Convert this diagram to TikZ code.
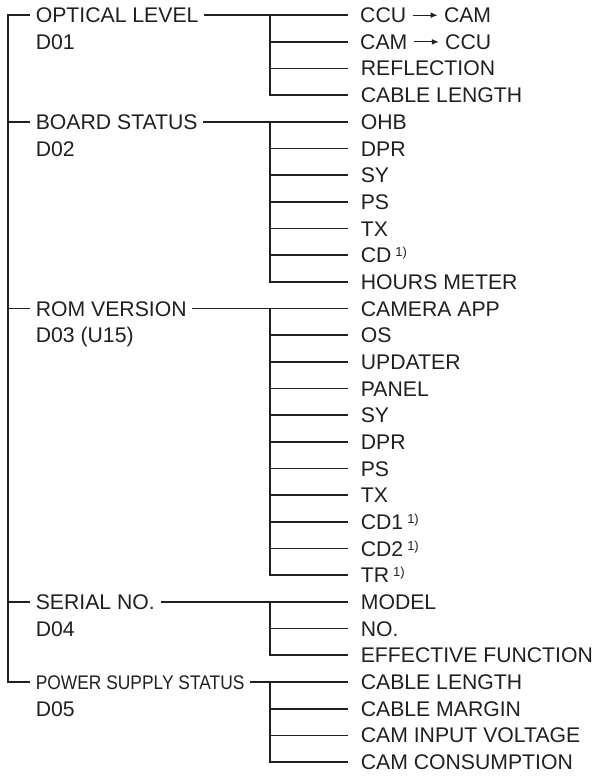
\documentclass[tikz,border=0pt]{standalone}
\usepackage{fontspec}
\setmainfont{Liberation Sans}
\usetikzlibrary{arrows.meta}
\definecolor{inchiostro}{HTML}{231F20}
%nota a esponente
\newcommand{\nota}{\hspace{4pt}\raisebox{6pt}{\fontsize{13}{14}\selectfont 1)}}
%freccia tra CCU e CAM
\newcommand{\freccia}{\tikz[baseline=0pt,x=1pt,y=1pt]\draw[line width=1.1pt,-{Latex[length=7pt,width=6pt]}] (0,7.4) -- (25,7.4);}
\newcommand{\riga}[1]{15+26.68*#1}

\begin{document}
\begin{tikzpicture}[x=1pt,y=-1pt,line width=1.7pt,draw=inchiostro,
    gruppo/.style={anchor=west,inner xsep=5pt,inner ysep=0pt,text height=15.2pt,text depth=0pt,
        text=inchiostro,font=\fontsize{21.2}{24}\selectfont},
    voce/.style={gruppo,inner xsep=12pt}]
    \useasboundingbox (0,0) rectangle (596,776);
    \coordinate (asse) at (8,0);
    \coordinate (barra) at (270,0);
    %gruppi
    \node[gruppo] (ott) at (30,{\riga{0}}) {OPTICAL LEVEL};
    \node[gruppo] (ottd) at (30,{\riga{1}}) {D01};
    \node[gruppo] (brd) at (30,{\riga{4}}) {BOARD STATUS};
    \node[gruppo] (brdd) at (30,{\riga{5}}) {D02};
    \node[gruppo] (rom) at (30,{\riga{11}}) {ROM VERSION};
    \node[gruppo] (romd) at (30,{\riga{12}}) {D03 (U15)};
    \node[gruppo] (ser) at (30,{\riga{22}}) {SERIAL NO.};
    \node[gruppo] (serd) at (30,{\riga{23}}) {D04};
    \node[gruppo] (pwr) at (30,{\riga{25}}) {\scalebox{0.82}[0.93]{POWER SUPPLY STATUS}};
    \node[gruppo] (pwrd) at (30,{\riga{26}}) {D05};
    %voci
    \foreach \t [count=\k from 0] in {CCU \freccia{} CAM,CAM \freccia{} CCU,REFLECTION,CABLE LENGTH}
        \node[voce] (ott\k) at (348,{\riga{\k}}) {\t};
    \foreach \t [count=\k from 4] in {OHB,DPR,SY,PS,TX,CD\nota,HOURS METER}
        \node[voce] (brd\k) at (348,{\riga{\k}}) {\t};
    \foreach \t [count=\k from 11] in {CAMERA APP,OS,UPDATER,PANEL,SY,DPR,PS,TX,CD1\nota,CD2\nota,TR\nota}
        \node[voce] (rom\k) at (348,{\riga{\k}}) {\t};
    \foreach \t [count=\k from 22] in {MODEL,NO.,EFFECTIVE FUNCTION}
        \node[voce] (ser\k) at (348,{\riga{\k}}) {\t};
    \foreach \t [count=\k from 25] in {CABLE LENGTH,CABLE MARGIN,CAM INPUT VOLTAGE,CAM CONSUMPTION}
        \node[voce] (pwr\k) at (348,{\riga{\k}}) {\t};
    %asse sinistro
    \draw (ott.west) -- (asse |- ott.west) -- (asse |- pwr.west) -- (pwr.west);
    \foreach \g in {brd,rom,ser}
        \draw (asse |- \g.west) -- (\g.west);
    %rami
    \draw (ott.east) -- (ott0.west);
    \draw (barra |- ott0.west) -- (barra |- ott3.west) -- (ott3.west);
    \foreach \i in {1,2}
        \draw (barra |- ott\i.west) -- (ott\i.west);
    \draw (brd.east) -- (brd4.west);
    \draw (barra |- brd4.west) -- (barra |- brd10.west) -- (brd10.west);
    \foreach \i in {5,...,9}
        \draw (barra |- brd\i.west) -- (brd\i.west);
    \draw (rom.east) -- (rom11.west);
    \draw (barra |- rom11.west) -- (barra |- rom21.west) -- (rom21.west);
    \foreach \i in {12,...,20}
        \draw (barra |- rom\i.west) -- (rom\i.west);
    \draw (ser.east) -- (ser22.west);
    \draw (barra |- ser22.west) -- (barra |- ser24.west) -- (ser24.west);
    \draw (barra |- ser23.west) -- (ser23.west);
    \draw (pwr.east) -- (pwr25.west);
    \draw (barra |- pwr25.west) -- (barra |- pwr28.west) -- (pwr28.west);
    \foreach \i in {26,27}
        \draw (barra |- pwr\i.west) -- (pwr\i.west);
\end{tikzpicture}
\end{document}
